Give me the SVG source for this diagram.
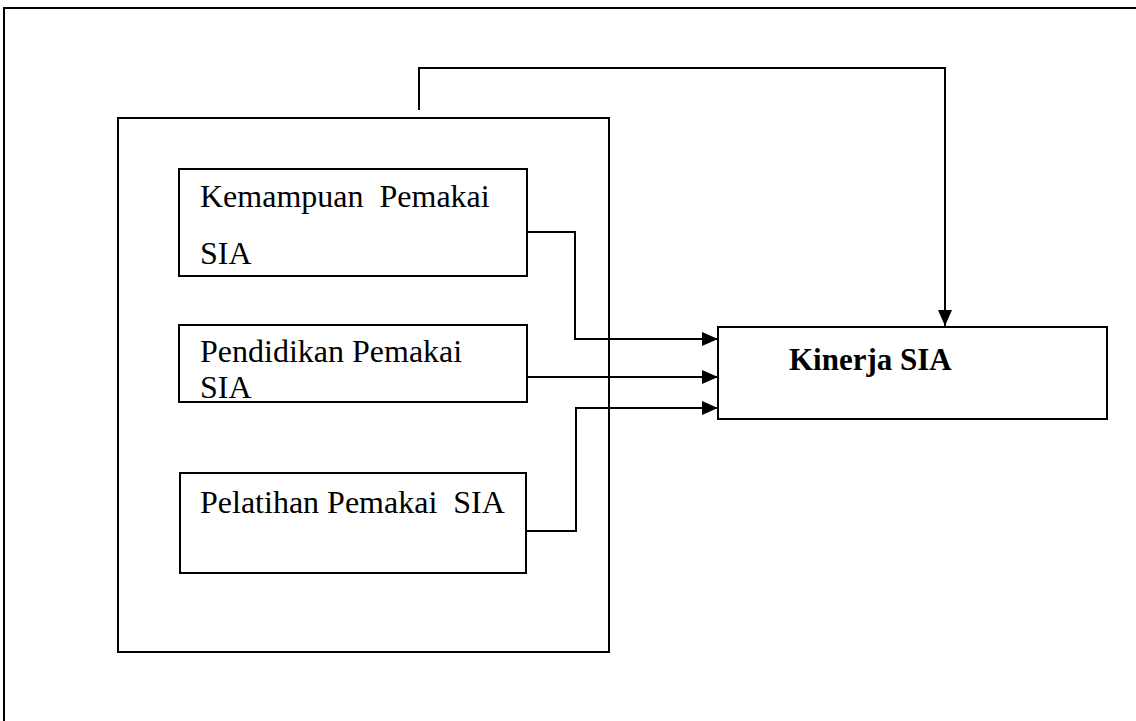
<svg xmlns="http://www.w3.org/2000/svg" width="1136" height="721" viewBox="0 0 1136 721">
<style>
.box{fill:#fff;stroke:#000;stroke-width:2}
.frame{fill:none;stroke:#000;stroke-width:2}
.conn{fill:none;stroke:#000;stroke-width:2}
.t{font-family:'Liberation Serif','Times New Roman',Times,'DejaVu Serif',serif;font-size:32px;fill:#000}
.tb{font-family:'Liberation Serif','Times New Roman',Times,'DejaVu Serif',serif;font-size:31px;font-weight:bold;fill:#000}
</style>
<defs>
<marker id="arr" markerWidth="16" markerHeight="14" refX="16" refY="7" orient="auto" markerUnits="userSpaceOnUse">
<path d="M0,0 L16,7 L0,14 Z" fill="#000"/>
</marker>
</defs>
<rect width="1136" height="721" fill="#fff"/>
<rect id="outer-frame" class="frame" x="4" y="8" width="1150" height="730"/>
<g id="container"><rect class="frame" x="118" y="118" width="491" height="534"/></g>
<g id="connectors">
<polyline class="conn" points="419,110 419,68 945,68 945,326" marker-end="url(#arr)"/>
<polyline class="conn" points="527,232 575,232 575,339 718,339" marker-end="url(#arr)"/>
<polyline class="conn" points="527,377 718,377" marker-end="url(#arr)"/>
<polyline class="conn" points="526,531 576,531 576,408 718,408" marker-end="url(#arr)"/>
</g>
<g id="node-kemampuan">
<rect class="box" x="179" y="169" width="348" height="107"/>
<text class="t" x="200" y="207" xml:space="preserve">Kemampuan  Pemakai</text>
<text class="t" x="200" y="264">SIA</text>
</g>
<g id="node-pendidikan">
<rect class="box" x="179" y="325" width="348" height="77"/>
<text class="t" x="200" y="362">Pendidikan Pemakai</text>
<text class="t" x="200" y="398">SIA</text>
</g>
<g id="node-pelatihan">
<rect class="box" x="180" y="473" width="346" height="100"/>
<text class="t" x="200" y="513" xml:space="preserve">Pelatihan Pemakai  SIA</text>
</g>
<g id="node-kinerja">
<rect class="box" x="718" y="327" width="389" height="92"/>
<text class="tb" x="789" y="370">Kinerja SIA</text>
</g>
</svg>
